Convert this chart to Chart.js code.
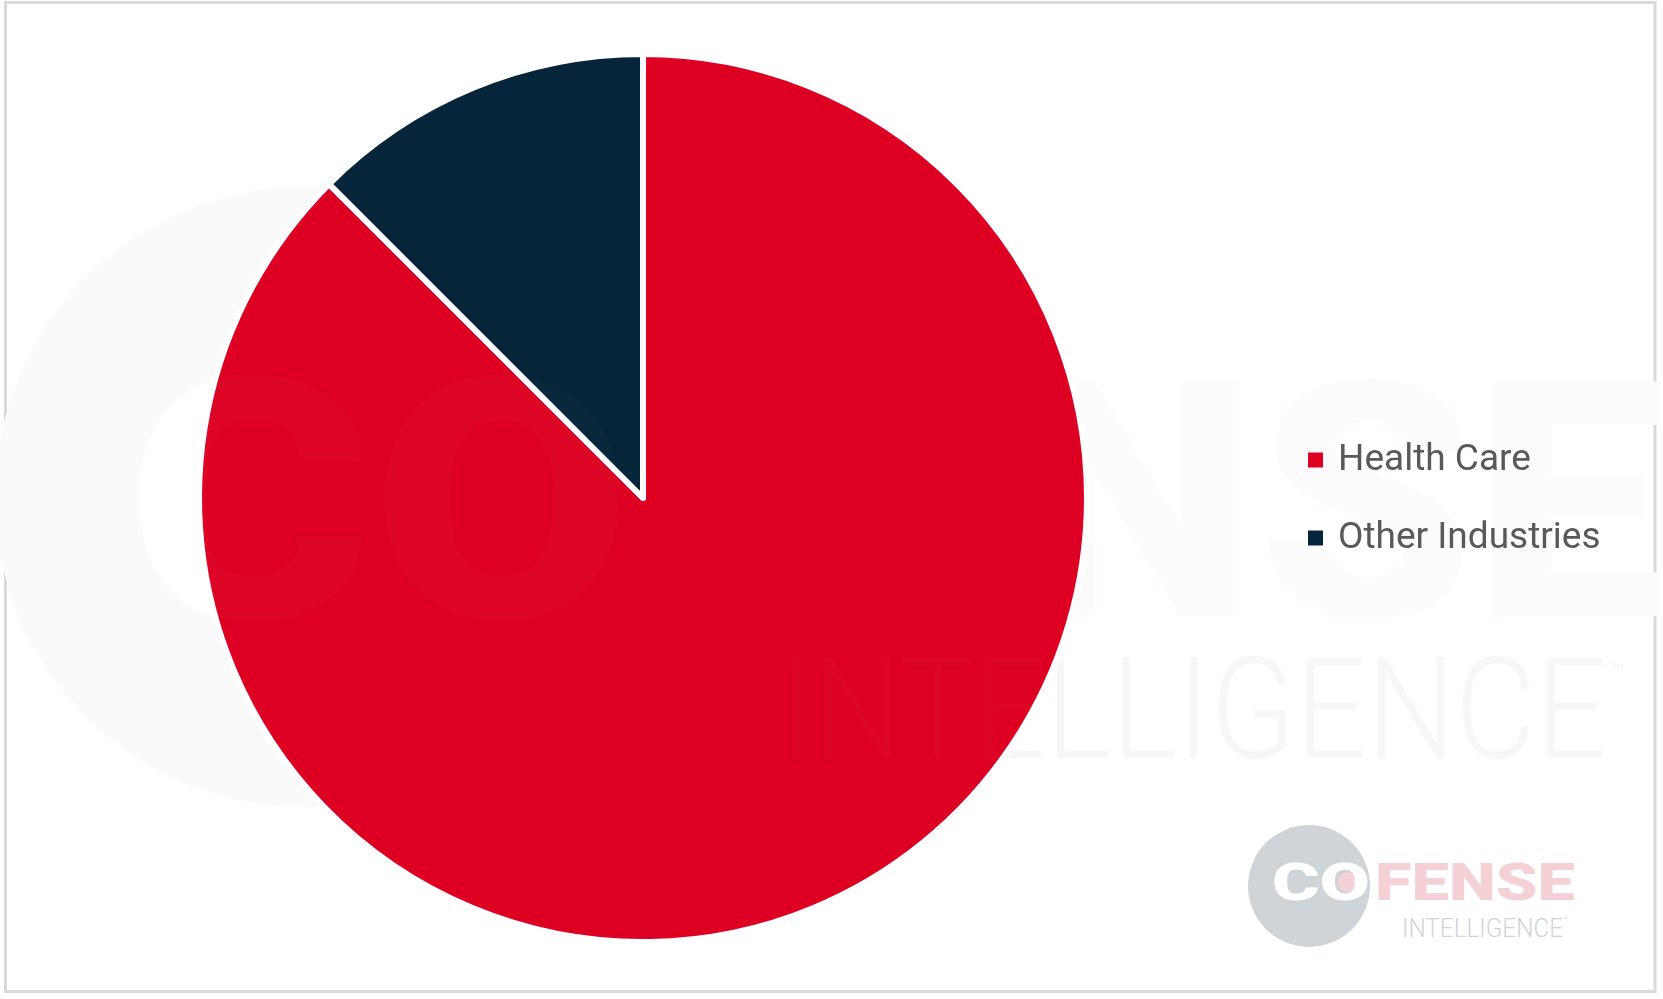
<!DOCTYPE html>
<html>
<head>
<meta charset="utf-8">
<script src="https://cdn.jsdelivr.net/npm/chart.js@4"></script>
<style>
  html, body { margin: 0; padding: 0; background: #ffffff; }
  body { width: 1663px; height: 999px; position: relative; overflow: hidden; }
  #bg { position: absolute; left: 0; top: 0; z-index: 0; }
  #chart { position: absolute; left: 0; top: 0; z-index: 1; }
  #fg { position: absolute; left: 0; top: 0; z-index: 2; pointer-events: none; }
</style>
</head>
<body>
<svg id="bg" width="1663" height="999" xmlns="http://www.w3.org/2000/svg" font-family="Roboto, 'DejaVu Sans', sans-serif">
  <rect x="5.5" y="2.5" width="1649.5" height="989" fill="#ffffff" stroke="#d9d9d9" stroke-width="3"/>
  <!-- faint large watermark -->
  <circle cx="305" cy="497" r="310" fill="#fafafa"/>
  <text x="127" y="618" font-size="338" font-weight="900" fill="#ffffff" textLength="504" lengthAdjust="spacingAndGlyphs">CO</text>
  <text x="636" y="616" font-size="330" font-weight="900" fill="#fdfbfc" textLength="1030" lengthAdjust="spacingAndGlyphs">FENSE</text>
  <text x="780" y="758" font-size="141" font-weight="300" fill="#f7f7f7" textLength="827" lengthAdjust="spacingAndGlyphs">INTELLIGENCE</text>
  <text x="1610" y="680" font-size="24" font-weight="300" fill="#f7f7f7">™</text>
  <!-- small logo -->
  <circle cx="1309" cy="886" r="61" fill="#cfd4d9"/>
  <circle cx="1348" cy="882" r="10" fill="#f5d0d4"/>
  <text x="1272" y="900" font-size="52" font-weight="900" fill="#ffffff" textLength="98" lengthAdjust="spacingAndGlyphs">CO</text>
  <text x="1375" y="900" font-size="52" font-weight="900" fill="#f5d0d4" textLength="200" lengthAdjust="spacingAndGlyphs">FENSE</text>
  <text x="1402" y="937" font-size="26" font-weight="300" fill="#d0d4d9" textLength="161" lengthAdjust="spacingAndGlyphs">INTELLIGENCE</text>
  <text x="1563" y="922" font-size="7" fill="#d0d4d9">™</text>
</svg>
<canvas id="chart" width="1663" height="999"></canvas>
<svg id="fg" width="1663" height="999" xmlns="http://www.w3.org/2000/svg" font-family="Roboto, 'DejaVu Sans', sans-serif">
  <g opacity="0.018">
    <text x="127" y="618" font-size="338" font-weight="900" fill="#ffffff" textLength="504" lengthAdjust="spacingAndGlyphs">CO</text>
    <text x="780" y="758" font-size="141" font-weight="300" fill="#ffffff" textLength="827" lengthAdjust="spacingAndGlyphs">INTELLIGENCE</text>
  </g>
</svg>
<script>
const categories = ['Health Care', 'Other Industries'];
const shares = [87.5, 12.5];
const sliceColors = ['#DD0022', '#06243A'];

const sideLegend = {
  id: 'sideLegend',
  afterDraw(chart) {
    const ctx = chart.ctx;
    const ds = chart.data.datasets[0];
    ctx.save();
    ctx.font = '37px Roboto, "DejaVu Sans", sans-serif';
    ctx.textBaseline = 'middle';
    ctx.textAlign = 'left';
    chart.data.labels.forEach((lab, i) => {
      const cy = 460 + i * 78;
      ctx.fillStyle = ds.backgroundColor[i];
      ctx.fillRect(1308, cy - 7.5, 15, 15);
      ctx.fillStyle = '#595959';
      ctx.fillText(lab, 1338, cy + 1);
    });
    ctx.restore();
  }
};

new Chart(document.getElementById('chart'), {
  type: 'pie',
  data: {
    labels: categories,
    datasets: [{
      data: shares,
      backgroundColor: sliceColors,
      borderColor: '#ffffff',
      borderWidth: 6,
      borderJoinStyle: 'round'
    }]
  },
  options: {
    responsive: false,
    devicePixelRatio: 1,
    animation: false,
    layout: { padding: { top: 51, bottom: 54, left: 0, right: 377 } },
    plugins: {
      legend: { display: false },
      tooltip: { enabled: false }
    }
  },
  plugins: [sideLegend]
});
</script>
</body>
</html>
